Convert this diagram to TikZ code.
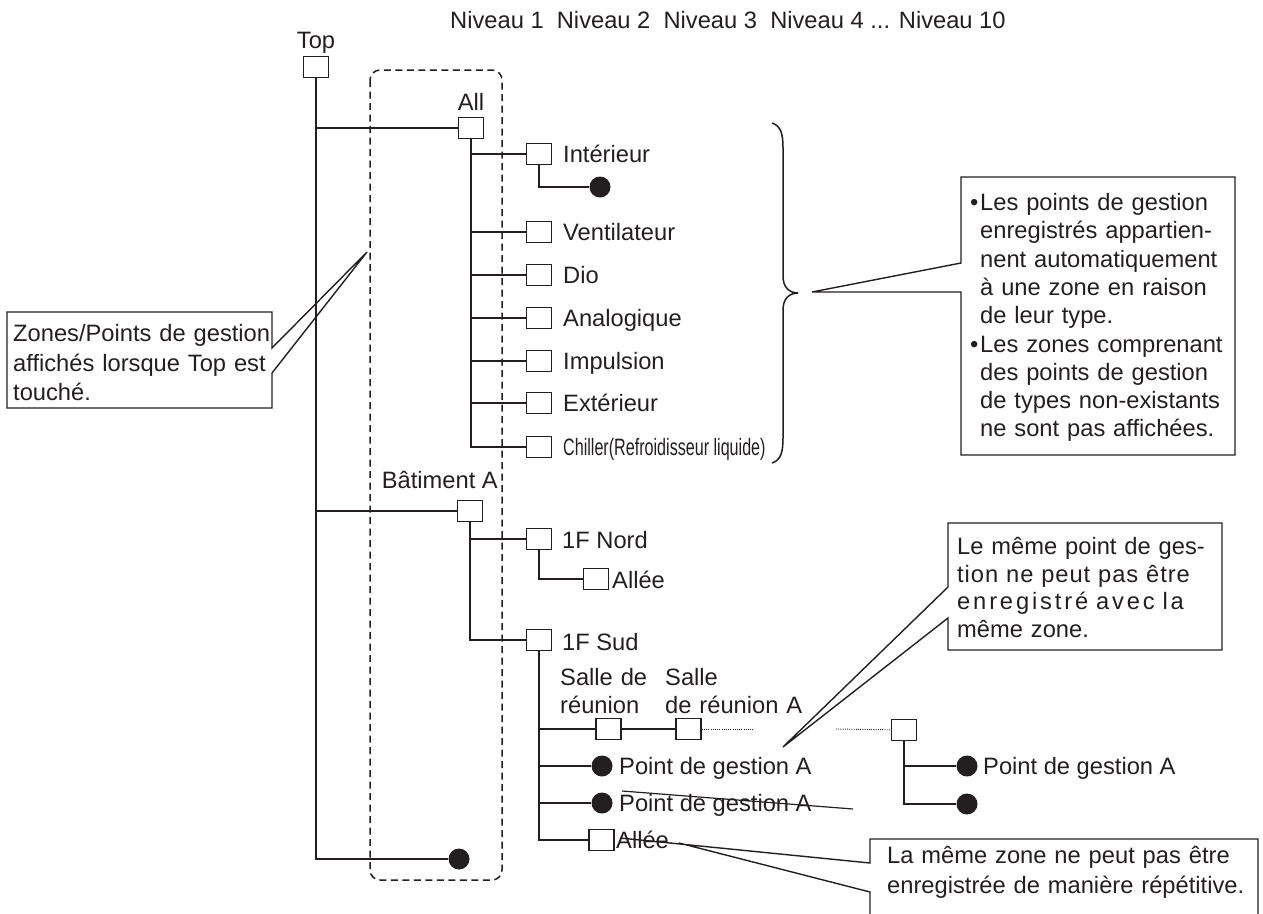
\documentclass[tikz,border=0pt]{standalone}
\usepackage{fontspec}
\setmainfont{Liberation Sans}
\definecolor{ink}{RGB}{35,31,32}
\newcommand{\jline}[2]{\makebox[#1][s]{#2}}
\tikzset{
  zone/.style={draw=ink, line width=1.4pt, fill=white, minimum width=25pt, minimum height=21pt, inner sep=0pt},
  mpoint/.style={circle, fill=ink, minimum size=21pt, inner sep=0pt},
  txt/.style={inner sep=0pt, anchor=west, text height=17pt, text depth=0pt},
  para/.style={inner sep=0pt, anchor=base west, align=left, text width=#1},
  branch/.style={draw=ink, line width=1.5pt},
  strike/.style={draw=ink, line width=1.2pt},
  dots/.style={draw=ink, line width=0.9pt, dash pattern=on 1pt off 1.2pt},
  callout/.style={draw=ink, line width=1.4pt},
}

\begin{document}
\begin{tikzpicture}[x=1pt, y=-1pt, font=\fontsize{23.7}{28}\selectfont, text=ink]
	\useasboundingbox (0,0) rectangle (1263,913);
	\clip (0,0) rectangle (1263,913);

	\node[txt] (levels) at (450,20) {Niveau 1~ Niveau 2~ Niveau 3~ Niveau 4 ... Niveau 10};

	\draw[ink, line width=1.5pt, dash pattern=on 7pt off 4.5pt, rounded corners=10pt] (370,70) rectangle (502,880);

	\node[zone] (top) at (316,67) {};
	\node[txt, anchor=center] (top-l) at (316,40) {Top};
	\node[zone] (all) at (471,128) {};
	\node[txt, anchor=center] (all-l) at (471,102) {All};
	\node[zone] (bat) at (470,511) {};
	\node[txt, anchor=east] (bat-l) at (498,480) {Bâtiment A};
	\node[mpoint] (end) at (459,859) {};

	\draw[branch] (top) |- (end);
	\draw[branch] (top) |- (all);
	\draw[branch] (top) |- (bat);

	\foreach \n/\y/\t in {int/154/Intérieur, ven/232/Ventilateur, dio/275/Dio, ana/318/Analogique, imp/361/Impulsion, ext/403/Extérieur}{
		\node[zone] (\n) at (539,\y) {};
		\node[txt] (\n-l) at (563,\y) {\t};
		\draw[branch] (all) |- (\n);
	}
	\node[zone] (chi) at (539,447) {};
	\node[txt] (chi-l) at (563,447) {\scalebox{0.68}[1]{Chiller(Refroidisseur liquide)}};
	\draw[branch] (all) |- (chi);

	\node[mpoint] (int-p) at (600,187) {};
	\draw[branch] (int) |- (int-p);

	\draw[branch] (772,123) .. controls (781,126) and (783,134) .. (783,148) -- (783,276)
		.. controls (783,287) and (789,293) .. (798,293)
		.. controls (789,293) and (783,299) .. (783,310) -- (783,438)
		.. controls (783,452) and (781,460) .. (772,463);

	\node[zone] (nord) at (539,539) {};
	\node[txt] (nord-l) at (562,540) {1F Nord};
	\node[zone] (nord-a) at (596,579) {};
	\node[txt] (nord-al) at (612,580) {Allée};
	\node[zone] (sud) at (539,640) {};
	\node[txt] (sud-l) at (562,642) {1F Sud};
	\draw[branch] (bat) |- (nord);
	\draw[branch] (nord) |- (nord-a);
	\draw[branch] (bat) |- (sud);

	\node[para=140pt] (salle-l) at (560,685.5) {Salle de\\réunion};
	\node[para=160pt] (salleA-l) at (665,685.5) {Salle\\de réunion A};
	\node[zone] (salle) at (608.5,729) {};
	\node[zone] (salleA) at (688.5,729) {};
	\coordinate (dotsA) at (753,729);
	\coordinate (dotsB) at (836,729);
	\node[zone] (salleN) at (904,730) {};
	\draw[branch] (sud) |- (salle);
	\draw[branch] (salle) -- (salleA);
	\draw[dots] (salleA) -- (dotsA);
	\draw[dots] (dotsB) -- (salleN);

	\node[mpoint] (pg1) at (602,766) {};
	\node[txt] (pg1-l) at (619,766) {Point de gestion A};
	\node[mpoint] (pg2) at (602,803) {};
	\node[txt] (pg2-l) at (619,803) {Point de gestion A};
	\node[zone] (sud-a) at (601.5,840) {};
	\node[txt] (sud-al) at (616,840) {Allée};
	\draw[branch] (sud) |- (pg1);
	\draw[branch] (sud) |- (pg2);
	\draw[branch] (sud) |- (sud-a);
	\draw[strike] (622,791) -- (853,809);

	\node[mpoint] (pgN1) at (967,766) {};
	\node[txt] (pgN1-l) at (983,766) {Point de gestion A};
	\node[mpoint] (pgN2) at (967,804) {};
	\draw[branch] (salleN) |- (pgN1);
	\draw[branch] (salleN) |- (pgN2);

	\coordinate (tipL) at (367,252);
	\draw[callout] (tipL) -- (272,348) -- (272,312) -- (7,312) -- (7,408) -- (272,408) -- (272,373) -- cycle;
	\node[para=260pt, font=\fontsize{23.7}{29.5}\selectfont] (noteL) at (13,341.5) {Zones/Points de gestion\\affichés lorsque Top est\\touché.};

	\coordinate (tipB) at (812,292);
	\draw[callout] (tipB) -- (961,263) -- (961,177) -- (1235,177) -- (1235,455) -- (961,455) -- (961,292) -- cycle;
	\node[para=265pt, font=\fontsize{23.7}{28.3}\selectfont] (noteB) at (970,210.5) {%
		\makebox[10pt][l]{•}\jline{237pt}{Les points de gestion}\\
		\hspace*{10pt}\jline{237pt}{enregistrés appartien-}\\
		\hspace*{10pt}\jline{237pt}{nent automatiquement}\\
		\hspace*{10pt}\jline{237pt}{à une zone en raison}\\
		\hspace*{10pt}de leur type.\\
		\makebox[10pt][l]{•}\jline{237pt}{Les zones comprenant}\\
		\hspace*{10pt}\jline{237pt}{des points de gestion}\\
		\hspace*{10pt}\jline{237pt}{de types non-existants}\\
		\hspace*{10pt}ne sont pas affichées.};

	\coordinate (tipP) at (783,747);
	\draw[callout] (tipP) -- (948,587) -- (948,523) -- (1222,523) -- (1222,650) -- (948,650) -- (948,618) -- cycle;
	\node[para=255pt, font=\fontsize{23.7}{27.5}\selectfont] (noteP) at (957,554.5) {%
		\jline{248pt}{Le même point de ges-}\\
		\jline{248pt}{\addfontfeatures{LetterSpace=4}tion ne peut pas être}\\
		\jline{248pt}{\addfontfeatures{LetterSpace=12}enregistré avec la}\\
		même zone.};

	\coordinate (tipA) at (679,843);
	\draw[callout] (620,838) -- (870,863) -- (870,839) -- (1258,839) -- (1258,925) -- (870,925) -- (870,892) -- (tipA);
	\node[para=380pt, font=\fontsize{23.7}{30}\selectfont] (noteA) at (887,863.5) {La même zone ne peut pas être\\enregistrée de manière répétitive.};
\end{tikzpicture}
\end{document}
